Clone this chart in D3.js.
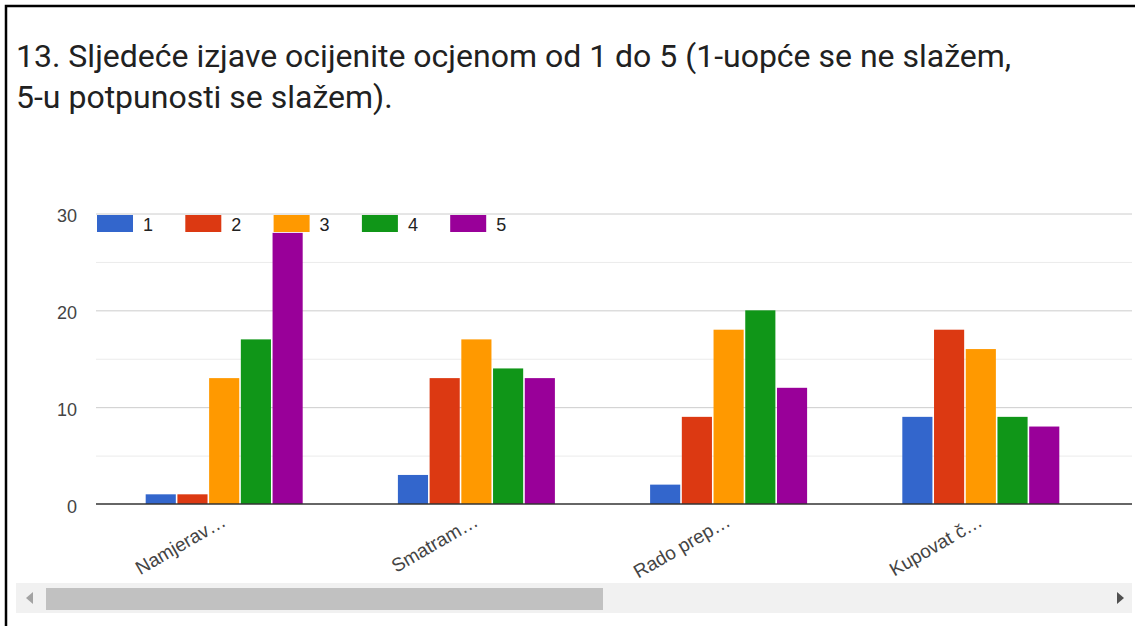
<!DOCTYPE html>
<html>
<head>
<meta charset="utf-8">
<script src="https://cdn.jsdelivr.net/npm/d3@7"></script>
<style>
  body { margin: 0; background: #fff; }
  svg { display: block; }
</style>
</head>
<body>
<div id="chart"></div>
<script>
// data
const categories = ["Namjerav…", "Smatram…", "Rado prep…", "Kupovat č…"];
const seriesNames = ["1", "2", "3", "4", "5"];
const values1 = [1, 3, 2, 9];
const values2 = [1, 13, 9, 18];
const values3 = [13, 17, 18, 16];
const values4 = [17, 14, 20, 9];
const values5 = [28, 13, 12, 8];
const yTicks = [0, 10, 20, 30];
const yMinorTicks = [5, 15, 25];
const colors = ["#3366cc", "#dc3912", "#ff9900", "#109618", "#990099"];

const allSeries = [values1, values2, values3, values4, values5];
const rows = categories.map((c, i) => ({
  cat: c,
  vals: seriesNames.map((s, j) => ({ key: s, value: allSeries[j][i] }))
}));

const W = 1135, H = 626;
const plot = { left: 96, right: 1132, top: 213.5, bottom: 504 };

const svg = d3.select("#chart").append("svg")
  .attr("width", W)
  .attr("height", H);

// frame
svg.append("path")
  .attr("d", "M6," + (H + 2) + " V6 H" + (W + 2))
  .attr("fill", "none")
  .attr("stroke", "#000")
  .attr("stroke-width", 2.5);

// title
const title = svg.append("text")
  .attr("x", 16)
  .attr("font-family", "Roboto, sans-serif")
  .attr("font-size", 32)
  .attr("fill", "#212121");
title.append("tspan").attr("x", 16).attr("y", 67)
  .text("13. Sljedeće izjave ocijenite ocjenom od 1 do 5 (1-uopće se ne slažem,");
title.append("tspan").attr("x", 16).attr("y", 108)
  .text("5-u potpunosti se slažem).");

svg.append("clipPath").attr("id", "plotclip")
  .append("rect")
  .attr("x", plot.left).attr("y", 150)
  .attr("width", plot.right - plot.left).attr("height", 430);

const g = svg.append("g").attr("clip-path", "url(#plotclip)");

// scales
const x0 = d3.scaleBand()
  .domain(categories)
  .range([plot.left, 1109])
  .paddingInner(0.3775)
  .paddingOuter(0.197);

const x1 = d3.scaleBand()
  .domain(seriesNames)
  .range([0, x0.bandwidth()])
  .paddingInner(0.05);

const y = d3.scaleLinear()
  .domain([0, 30])
  .range([plot.bottom, plot.top]);

const color = d3.scaleOrdinal().domain(seriesNames).range(colors);

// minor grid
g.append("g")
  .attr("transform", "translate(" + plot.left + ",0)")
  .call(d3.axisLeft(y).tickValues(yMinorTicks).tickSize(-(plot.right - plot.left)).tickFormat(""))
  .call(a => a.select(".domain").remove())
  .selectAll("line").attr("stroke", "#ebebeb");

// major grid
g.append("g")
  .attr("transform", "translate(" + plot.left + ",0)")
  .call(d3.axisLeft(y).tickValues(yTicks.filter(v => v > 0)).tickSize(-(plot.right - plot.left)).tickFormat(""))
  .call(a => a.select(".domain").remove())
  .selectAll("line").attr("stroke", "#cccccc");

// bars
g.selectAll(".grp")
  .data(rows)
  .enter().append("g")
    .attr("class", "grp")
    .attr("transform", d => "translate(" + x0(d.cat) + ",0)")
  .selectAll("rect")
  .data(d => d.vals)
  .enter().append("rect")
    .attr("x", d => x1(d.key))
    .attr("y", d => y(d.value))
    .attr("width", x1.bandwidth())
    .attr("height", d => y(0) - y(d.value))
    .attr("fill", d => color(d.key));

// y tick labels
const yAxis = svg.append("g")
  .attr("transform", "translate(" + (plot.left - 19) + ",0)")
  .call(d3.axisLeft(y).tickValues(yTicks).tickSize(0).tickPadding(0))
  .call(a => a.select(".domain").remove());
yAxis.selectAll("text")
  .attr("font-family", "Arial, 'Liberation Sans', sans-serif")
  .attr("font-size", 18)
  .attr("fill", "#444")
  .attr("dy", "0.45em");

// x axis
const xAxis = svg.append("g")
  .attr("transform", "translate(0," + plot.bottom + ")")
  .call(d3.axisBottom(x0).tickSize(0));
xAxis.select(".domain").remove();
xAxis.append("line")
  .attr("x1", plot.left).attr("x2", plot.right)
  .attr("stroke", "#333").attr("stroke-width", 1.5);
xAxis.selectAll(".tick text")
  .attr("font-family", "Arial, 'Liberation Sans', sans-serif")
  .attr("font-size", 19)
  .attr("fill", "#444")
  .attr("text-anchor", "end")
  .attr("dy", 0)
  .attr("y", 0)
  .attr("transform", "translate(3,21) rotate(-30)");

// legend
const legend = svg.append("g").attr("transform", "translate(97,215)");
const li = legend.selectAll("g")
  .data(seriesNames)
  .enter().append("g")
    .attr("transform", (d, i) => "translate(" + (i * 88.3) + ",0)");
li.append("rect")
  .attr("width", 36).attr("height", 17)
  .attr("fill", d => color(d));
li.append("text")
  .attr("x", 46).attr("y", 15.5)
  .attr("font-family", "Arial, 'Liberation Sans', sans-serif")
  .attr("font-size", 18)
  .attr("fill", "#222")
  .text(d => d);

// scrollbar
const sb = svg.append("g");
sb.append("rect")
  .attr("x", 16).attr("y", 583)
  .attr("width", 1116).attr("height", 30)
  .attr("fill", "#f1f1f1");
sb.append("rect")
  .attr("x", 46).attr("y", 588)
  .attr("width", 557).attr("height", 22)
  .attr("fill", "#c1c1c1");
sb.append("path")
  .attr("d", "M33,592 L26,598 L33,604 Z")
  .attr("fill", "#a3a3a3");
sb.append("path")
  .attr("d", "M1117,592 L1124,598 L1117,604 Z")
  .attr("fill", "#505050");
</script>
</body>
</html>
